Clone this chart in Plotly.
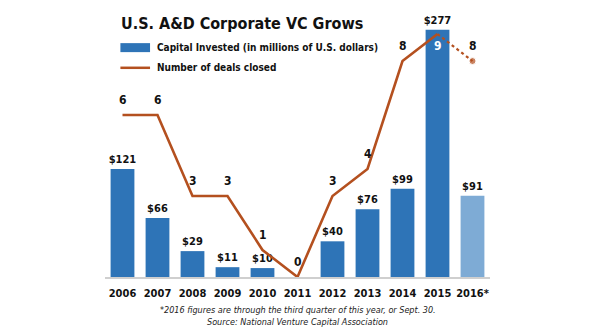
import plotly.graph_objects as go

years = ["2006", "2007", "2008", "2009", "2010", "2011", "2012", "2013", "2014", "2015", "2016*"]
capital = [121, 66, 29, 11, 10, None, 40, 76, 99, 277, 91]
deals = [6, 6, 3, 3, 1, 0, 3, 4, 8, 9, 8]

BLUE = "#2e74b7"
LIGHT = "#7eabd5"
RUST = "#b4501f"
FONT = "Liberation Sans Narrow, DejaVu Sans Condensed, Roboto Condensed, Arial Narrow, Roboto, sans-serif"

bar_colors = [LIGHT if y.endswith("*") else BLUE for y in years]
bar_text = ["" if v is None else f"${v}" for v in capital]

fig = go.Figure()
fig.add_trace(go.Bar(
    x=years, y=capital, marker=dict(color=bar_colors, line=dict(width=0)),
    text=bar_text, textposition="outside", cliponaxis=False, constraintext="none",
    textfont=dict(family=FONT, size=11, color="#111111", weight="bold"),
    showlegend=False, hoverinfo="skip",
))

# solid part (2006-2015)
fig.add_trace(go.Scatter(
    x=years[:-1], y=deals[:-1], yaxis="y2", mode="lines",
    line=dict(color=RUST, width=2.6),
    cliponaxis=False, showlegend=False, hoverinfo="skip",
))
# dashed part (2015-2016)
fig.add_trace(go.Scatter(
    x=years[-2:], y=deals[-2:], yaxis="y2", mode="lines+markers",
    line=dict(color=RUST, width=2.2, dash="dot"),
    marker=dict(color=RUST, size=[0, 7]),
    cliponaxis=False, showlegend=False, hoverinfo="skip",
))

# deal-count labels (x given as category index)
peak = max(deals)
for i, d in enumerate(deals):
    inside = (d == peak)
    fig.add_annotation(x=i, y=d, xref="x", yref="y2", text=f"<b>{d}</b>", showarrow=False,
                       yshift=-12 if inside else 15,
                       font=dict(family=FONT, size=12, color="white" if inside else "#111111"))

fig.update_layout(
    width=595, height=335,
    margin=dict(l=105, r=105, t=20, b=58),
    paper_bgcolor="white", plot_bgcolor="white",
    bargap=0.32,
    xaxis=dict(type="category", range=[-0.5, len(years) - 0.5], showgrid=False,
               showline=True, linecolor="#cfcfcf", linewidth=2, ticks="", tickangle=0,
               tickfont=dict(family=FONT, size=11, color="#111111", weight="bold"),
               ticklabelstandoff=5),
    yaxis=dict(range=[0, 288], visible=False, fixedrange=True),
    yaxis2=dict(range=[0, 9.52], overlaying="y", visible=False),
    font=dict(family=FONT),
)

# title and custom legend
fig.add_annotation(xref="paper", yref="paper", x=0.037, y=0.985, yanchor="middle", xanchor="left",
                   text="<b>U.S. A&amp;D Corporate VC Grows</b>", showarrow=False,
                   font=dict(family=FONT, size=16, color="#111111"))
fig.add_shape(type="rect", xref="paper", yref="paper", x0=0.04, x1=0.117, y0=0.875, y1=0.91,
              fillcolor=BLUE, line=dict(width=0))
fig.add_annotation(xref="paper", yref="paper", x=0.13, y=0.893, xanchor="left", yanchor="middle",
                   text="<b>Capital Invested (in millions of U.S. dollars)</b>", showarrow=False,
                   font=dict(family=FONT, size=10, color="#111111"))
fig.add_shape(type="line", xref="paper", yref="paper", x0=0.04, x1=0.117, y0=0.814, y1=0.814,
              line=dict(color=RUST, width=2.5))
fig.add_annotation(xref="paper", yref="paper", x=0.13, y=0.814, xanchor="left", yanchor="middle",
                   text="<b>Number of deals closed</b>", showarrow=False,
                   font=dict(family=FONT, size=10, color="#111111"))
# footnotes
fig.add_annotation(xref="paper", yref="paper", x=0.5, y=-0.13, xanchor="center", yanchor="middle",
                   text="<i>*2016 figures are through the third quarter of this year, or Sept. 30.</i>",
                   showarrow=False, font=dict(family=FONT, size=9, color="#222222"))
fig.add_annotation(xref="paper", yref="paper", x=0.5, y=-0.175, xanchor="center", yanchor="middle",
                   text="<i>Source: National Venture Capital Association</i>",
                   showarrow=False, font=dict(family=FONT, size=9, color="#222222"))

fig.write_html("out.html")
